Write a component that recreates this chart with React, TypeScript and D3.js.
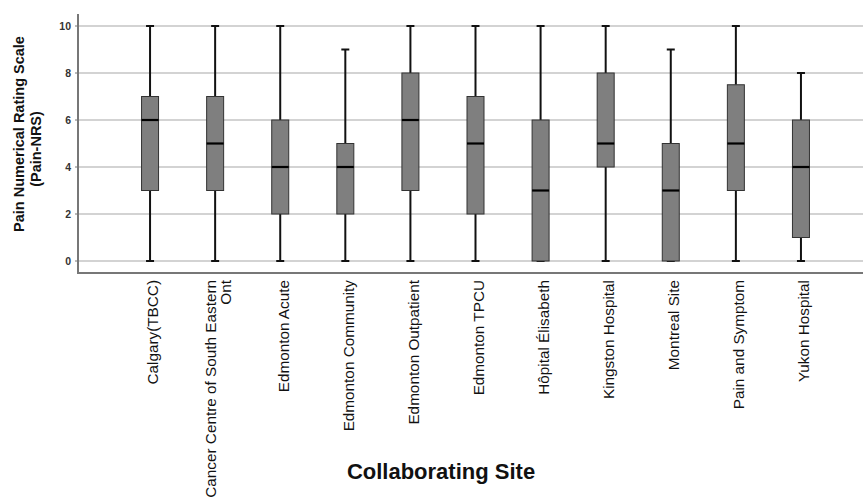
import React from "react";
import * as d3 from "d3";

const sites = [
  "Calgary(TBCC)",
  "Cancer Centre of South Eastern|Ont",
  "Edmonton Acute",
  "Edmonton Community",
  "Edmonton Outpatient",
  "Edmonton TPCU",
  "Hôpital Élisabeth",
  "Kingston Hospital",
  "Montreal Site",
  "Pain and Symptom",
  "Yukon Hospital",
];
const minVals = [0, 0, 0, 0, 0, 0, 0, 0, 0, 0, 0];
const q1Vals = [3, 3, 2, 2, 3, 2, 0, 4, 0, 3, 1];
const medianVals = [6, 5, 4, 4, 6, 5, 3, 5, 3, 5, 4];
const q3Vals = [7, 7, 6, 5, 8, 7, 6, 8, 5, 7.5, 6];
const maxVals = [10, 10, 10, 9, 10, 10, 10, 10, 9, 10, 8];
const yTicks = [0, 2, 4, 6, 8, 10];

const W = 863;
const H = 499;

export default function App() {
  const y = d3.scaleLinear().domain([0, 10]).range([261, 26]);
  const x = d3.scaleBand<string>().domain(sites).range([117.5, 833.5]).padding(0);
  const cx = (s: string) => (x(s) as number) + x.bandwidth() / 2;
  const axisX = 78;
  const axisY = 273;
  const boxW = 17;
  const capW = 8;

  return (
    <svg
      width={W}
      height={H}
      style={{ position: "absolute", left: 0, top: 0, background: "#fff" }}
      fontFamily="'Liberation Sans', Arial, sans-serif"
    >
      {/* gridlines */}
      {yTicks.map((t) => (
        <line key={"g" + t} x1={axisX} x2={W} y1={y(t)} y2={y(t)} stroke="#c4c4c4" strokeWidth={1.5} />
      ))}
      {/* tick marks and labels */}
      {yTicks.map((t) => (
        <g key={"t" + t}>
          <line x1={axisX - 3} x2={axisX} y1={y(t)} y2={y(t)} stroke="#777" strokeWidth={1} />
          <text x={71} y={y(t)} dy="0.35em" textAnchor="end" fontSize={10.5} fontWeight="bold" fill="#333">
            {t}
          </text>
        </g>
      ))}
      {/* axes */}
      <line x1={axisX} x2={axisX} y1={14} y2={axisY} stroke="#777" strokeWidth={2} />
      <line x1={axisX - 1} x2={W} y1={axisY} y2={axisY} stroke="#777" strokeWidth={2} />

      {/* boxes */}
      {sites.map((s, i) => {
        const c = cx(s);
        return (
          <g key={s}>
            <line x1={c} x2={c} y1={y(maxVals[i])} y2={y(q3Vals[i])} stroke="#111" strokeWidth={2} />
            <line x1={c} x2={c} y1={y(q1Vals[i])} y2={y(minVals[i])} stroke="#111" strokeWidth={2} />
            <line x1={c - capW / 2} x2={c + capW / 2} y1={y(maxVals[i])} y2={y(maxVals[i])} stroke="#111" strokeWidth={2} />
            <line x1={c - capW / 2} x2={c + capW / 2} y1={y(minVals[i])} y2={y(minVals[i])} stroke="#111" strokeWidth={2} />
            <rect
              x={c - boxW / 2}
              y={y(q3Vals[i])}
              width={boxW}
              height={y(q1Vals[i]) - y(q3Vals[i])}
              fill="#7f7f7f"
              stroke="#333"
              strokeWidth={1}
            />
            <line x1={c - boxW / 2} x2={c + boxW / 2} y1={y(medianVals[i])} y2={y(medianVals[i])} stroke="#000" strokeWidth={2.2} />
          </g>
        );
      })}

      {/* x labels */}
      {sites.map((s) => {
        const c = cx(s);
        const parts = s.split("|");
        const n = parts.length;
        return (
          <g key={"l" + s}>
            {parts.map((p, j) => {
              const lx = c + 3 + (j - (n - 1) / 2) * 15;
              return (
                <text
                  key={j}
                  transform={`translate(${lx},280) rotate(-90)`}
                  dy="0.35em"
                  textAnchor="end"
                  fontSize={15.3}
                  fill="#111"
                >
                  {p}
                </text>
              );
            })}
          </g>
        );
      })}

      {/* y title */}
      <text transform="translate(19,134) rotate(-90)" textAnchor="middle" fontSize={14.5} fontWeight="bold" fill="#111" dy="0.35em">
        Pain Numerical Rating Scale
      </text>
      <text transform="translate(36,149) rotate(-90)" textAnchor="middle" fontSize={14.5} fontWeight="bold" fill="#111" dy="0.35em">
        (Pain-NRS)
      </text>

      {/* x title */}
      <text x={441} y={479} textAnchor="middle" fontSize={22} fontWeight="bold" fill="#111">
        Collaborating Site
      </text>
    </svg>
  );
}
